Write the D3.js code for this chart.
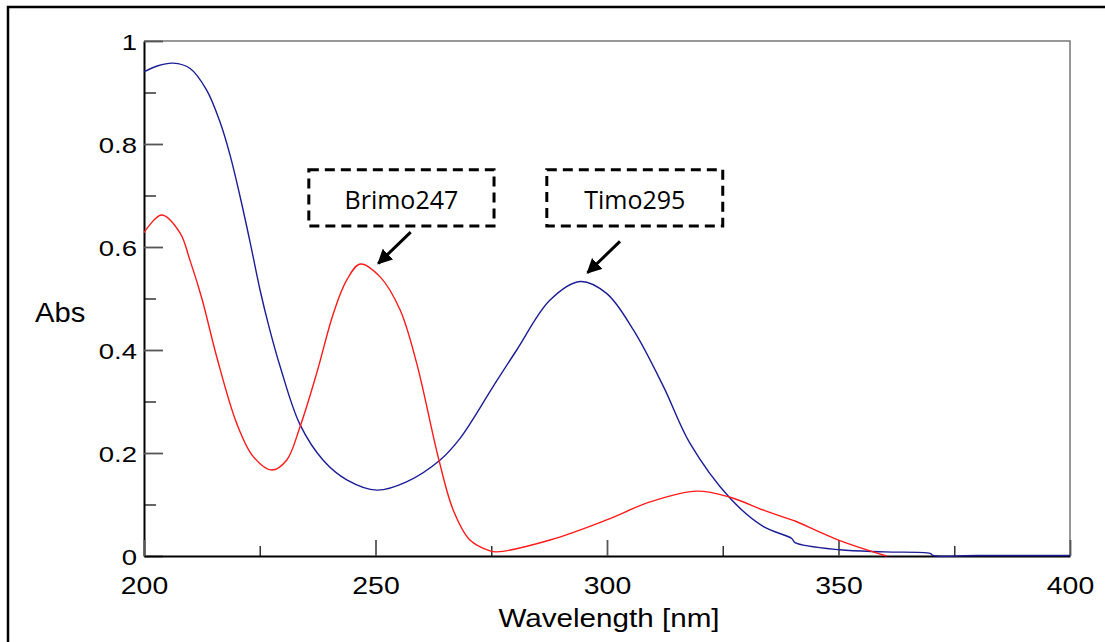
<!DOCTYPE html>
<html>
<head>
<meta charset="utf-8">
<script src="https://cdn.jsdelivr.net/npm/d3@7"></script>
<style>
  body { margin: 0; background: white; }
</style>
</head>
<body>
<div id="container"></div>
<script>
// spectrum data
let wlTimo  = [200, 203, 206.3, 209.9, 213.5, 216.4, 218.6, 220.7, 222.9, 225.1, 227, 229.4, 233.7, 238.7, 243.8, 250.3, 256.7, 263.9, 268.3, 275.4, 280.5, 287.7, 294.2, 299.9, 305.7, 312.2, 317.9, 326.6, 333.8, 339.9, 340.6, 350.3, 360, 369.8, 370.4, 380, 400];
let absTimo = [0.940, 0.952, 0.957, 0.947, 0.905, 0.843, 0.778, 0.700, 0.610, 0.515, 0.445, 0.368, 0.255, 0.186, 0.148, 0.128, 0.144, 0.186, 0.229, 0.329, 0.400, 0.497, 0.533, 0.510, 0.439, 0.329, 0.219, 0.112, 0.057, 0.034, 0.026, 0.012, 0.008, 0.005, 0.001, 0.001, 0.001];

let wlBrimo  = [200, 203.8, 207.8, 209.9, 212.5, 215.7, 220, 223.6, 227.6, 230.8, 233.7, 237.3, 240.9, 243.8, 246.7, 251, 255.3, 258.9, 263.6, 266.8, 270.4, 274.7, 276.2, 287.7, 299.9, 309.3, 319.4, 326.6, 333.8, 339.9, 340.6, 350, 360.4];
let absBrimo = [0.628, 0.662, 0.627, 0.575, 0.500, 0.387, 0.258, 0.193, 0.167, 0.186, 0.251, 0.355, 0.471, 0.536, 0.567, 0.542, 0.478, 0.374, 0.190, 0.089, 0.031, 0.010, 0.008, 0.031, 0.070, 0.105, 0.126, 0.114, 0.089, 0.070, 0.068, 0.031, 0.0];

let xTicks = [200, 250, 300, 350, 400];
let xMinor = [225, 275, 325, 375];
let yTicks = [0, 0.2, 0.4, 0.6, 0.8, 1];
let yMinor = [0.1, 0.3, 0.5, 0.7, 0.9];

let labels = ["Brimo247", "Timo295"];

let blue = "#1c1c96";
let red = "#ff1a1a";

let W = 1105, H = 642;
let mLeft = 144, mRight = 1070, mTop = 41, mBottom = 556;

let viz = d3.select("#container")
  .append("svg")
    .attr("width", W)
    .attr("height", H)
    .style("background-color", "white")
    .style("display", "block")
;

// outer frame
viz.append("rect")
  .attr("x", 8)
  .attr("y", 7)
  .attr("width", 1200)
  .attr("height", 800)
  .attr("fill", "none")
  .attr("stroke", "black")
  .attr("stroke-width", 2.5)
;

let x = d3.scaleLinear().domain([200, 400]).range([mLeft, mRight]);
let y = d3.scaleLinear().domain([0, 1]).range([mBottom, mTop]);

// top + right frame in grey
viz.append("path")
  .attr("d", "M" + mLeft + "," + mTop + "H" + mRight + "V" + mBottom)
  .attr("fill", "none")
  .attr("stroke", "#777")
  .attr("stroke-width", 1.5)
;

// minor ticks
viz.append("g")
  .attr("transform", "translate(" + mLeft + ",0)")
  .call(d3.axisLeft(y).tickValues(yMinor).tickSize(-12).tickSizeOuter(0).tickFormat(""))
  .call(g => g.select(".domain").remove())
  .call(g => g.selectAll("line").attr("stroke", "#333").attr("stroke-width", 1.5))
;
viz.append("g")
  .attr("transform", "translate(0," + mBottom + ")")
  .call(d3.axisBottom(x).tickValues(xMinor).tickSize(-10).tickSizeOuter(0).tickFormat(""))
  .call(g => g.select(".domain").remove())
  .call(g => g.selectAll("line").attr("stroke", "#333").attr("stroke-width", 1.5))
;

// major ticks
let yAxis = viz.append("g")
  .attr("transform", "translate(" + mLeft + ",0)")
  .call(d3.axisLeft(y).tickValues(yTicks).tickSize(-19).tickSizeOuter(0).tickPadding(7).tickFormat(d3.format("~g")))
;
let xAxis = viz.append("g")
  .attr("transform", "translate(0," + mBottom + ")")
  .call(d3.axisBottom(x).tickValues(xTicks).tickSize(-16).tickSizeOuter(0).tickPadding(21).tickFormat(d3.format("d")))
;

[yAxis, xAxis].forEach(function(g) {
  g.select(".domain").attr("stroke", "black").attr("stroke-width", 2);
  g.selectAll("line").attr("stroke", "#555").attr("stroke-width", 1.8);
  g.selectAll("text")
    .attr("fill", "black")
    .style("font-family", "Liberation Sans, Arial, sans-serif");
});

// labels a bit wider than the font, like the source picture
yAxis.selectAll("text")
  .attr("font-size", 22)
  .attr("dy", "0.4em")
  .attr("x", -7 / 1.25)
  .attr("transform", "scale(1.25,1)")
;
xAxis.selectAll("text")
  .attr("font-size", 24.5)
  .attr("dy", "0.71em")
  .attr("transform", "scale(1.16,1)")
;

// axis titles
viz.append("text")
  .text("Wavelength [nm]")
  .attr("font-size", 26)
  .attr("font-family", "Liberation Sans, Arial, sans-serif")
  .attr("text-anchor", "middle")
  .attr("transform", "translate(" + ((mLeft + mRight) / 2 + 2) + ",627) scale(1.14,1)")
;
viz.append("text")
  .text("Abs")
  .attr("font-size", 27)
  .attr("font-family", "Liberation Sans, Arial, sans-serif")
  .attr("transform", "translate(35,322) scale(1.08,1)")
;

// curves
let line = d3.line()
  .x(d => x(d[0]))
  .y(d => y(d[1]))
  .curve(d3.curveCatmullRom.alpha(0.5))
;

viz.append("path")
  .datum(d3.zip(wlTimo, absTimo))
  .attr("d", line)
  .attr("fill", "none")
  .attr("stroke", blue)
  .attr("stroke-width", 1.4)
;
viz.append("path")
  .datum(d3.zip(wlBrimo, absBrimo))
  .attr("d", line)
  .attr("fill", "none")
  .attr("stroke", red)
  .attr("stroke-width", 1.4)
;

// annotations: box (wavelength/abs corners), arrow tail -> tip
let boxes = [
  { label: labels[0], x0: 235.6, x1: 275.6, a0: 0.750, a1: 0.641, tail: [257.6, 0.629], tip: [250.6, 0.568] },
  { label: labels[1], x0: 287.0, x1: 325.0, a0: 0.750, a1: 0.641, tail: [302.8, 0.611], tip: [295.8, 0.550] }
];

viz.append("defs").append("marker")
  .attr("id", "head")
  .attr("viewBox", "0 0 10 10")
  .attr("refX", 9)
  .attr("refY", 5)
  .attr("markerWidth", 5)
  .attr("markerHeight", 5)
  .attr("markerUnits", "strokeWidth")
  .attr("orient", "auto")
  .append("path")
    .attr("d", "M0,0 L10,5 L0,10 Z")
    .attr("fill", "black")
;

boxes.forEach(function(b) {
  viz.append("rect")
    .attr("x", x(b.x0))
    .attr("y", y(b.a0))
    .attr("width", x(b.x1) - x(b.x0))
    .attr("height", y(b.a1) - y(b.a0))
    .attr("fill", "white")
    .attr("stroke", "black")
    .attr("stroke-width", 3)
    .attr("stroke-dasharray", "10,6")
  ;
  viz.append("text")
    .text(b.label)
    .attr("x", (x(b.x0) + x(b.x1)) / 2)
    .attr("y", y(b.a1) - 17)
    .attr("text-anchor", "middle")
    .attr("font-size", 25)
    .attr("font-family", "Open Sans, Noto Sans, sans-serif")
    .attr("fill", "black")
  ;
  viz.append("line")
    .attr("x1", x(b.tail[0]))
    .attr("y1", y(b.tail[1]))
    .attr("x2", x(b.tip[0]))
    .attr("y2", y(b.tip[1]))
    .attr("stroke", "black")
    .attr("stroke-width", 3)
    .attr("marker-end", "url(#head)")
  ;
});
</script>
</body>
</html>
